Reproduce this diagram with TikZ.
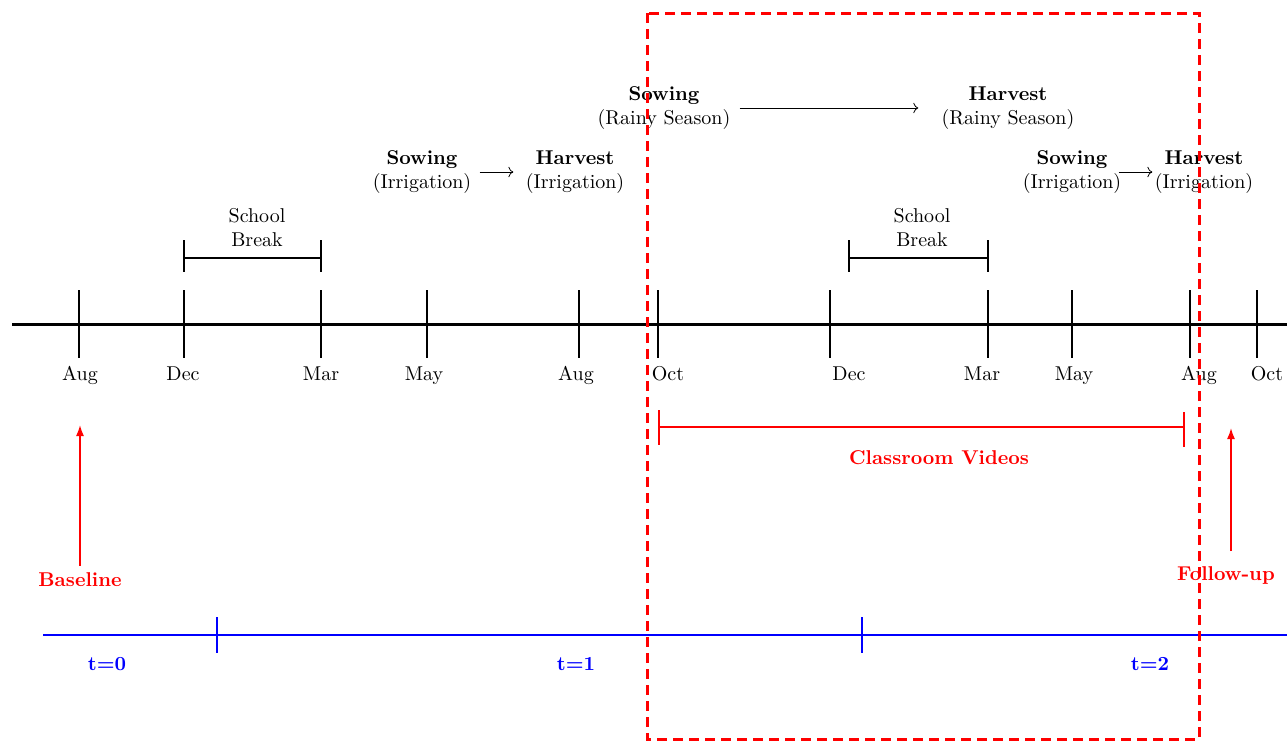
\documentclass[tikz,border=0pt]{standalone}
\usetikzlibrary{arrows.meta}

\tikzset{
  month/.style={anchor=base, inner sep=0pt},
  season/.style={align=center, inner sep=0pt},
  brk/.style={line width=0.6pt},
  redlabel/.style={red, font=\bfseries},
  bluelabel/.style={blue, font=\bfseries},
  uparrow/.style={red, line width=0.8pt, -{Latex[length=5.5pt,width=4pt]}},
}

% tick on the main line, label below it
\newcommand{\MonthTick}[4]{%
  \draw[line width=0.8pt] (#1,290) -- (#1,358);
  \node[month] (#3) at (#2,380) {#4};
}

\begin{document}
\begin{tikzpicture}[x=0.5pt, y=-0.5pt]
  \useasboundingbox (0,0) rectangle (1287,744);

  % main timeline
  \draw[line width=1.5pt] (12,324) -- (1287,324);
  \MonthTick{79}{80}{aug1}{Aug}
  \MonthTick{184}{183}{dec1}{Dec}
  \MonthTick{321}{321}{mar1}{Mar}
  \MonthTick{427}{424}{may1}{May}
  \MonthTick{579}{576}{aug2}{Aug}
  \MonthTick{658}{668}{oct1}{Oct}
  \MonthTick{830}{849}{dec2}{Dec}
  \MonthTick{988}{982}{mar2}{Mar}
  \MonthTick{1072}{1074}{may2}{May}
  \MonthTick{1190}{1199}{aug3}{Aug}
  \MonthTick{1257}{1267}{oct2}{Oct}

  % school breaks
  \node[season] (break1) at (257,228) {School\\Break};
  \draw[brk] (184,240) -- (184,272);
  \draw[brk] (184,258) -- (321,258);
  \draw[brk] (321,240) -- (321,272);
  \node[season] (break2) at (922,228) {School\\Break};
  \draw[brk] (849,240) -- (849,272);
  \draw[brk] (849,258) -- (988,258);
  \draw[brk] (988,240) -- (988,272);

  % sowing -> harvest
  \node[season] (sowI1) at (422,172) {\textbf{Sowing}\\(Irrigation)};
  \node[season] (harI1) at (575,172) {\textbf{Harvest}\\(Irrigation)};
  \node[season] (sowR)  at (664,108) {\textbf{Sowing}\\(Rainy Season)};
  \node[season] (harR)  at (1008,108) {\textbf{Harvest}\\(Rainy Season)};
  \node[season] (sowI2) at (1072,172) {\textbf{Sowing}\\(Irrigation)};
  \node[season] (harI2) at (1204,172) {\textbf{Harvest}\\(Irrigation)};
  \draw[->, shorten <=4pt, shorten >=6pt] (sowI1.east) -- (harI1.west);
  \draw[->, shorten <=4.5pt, shorten >=11.5pt] (sowR.east) -- (harR.west);
  \draw[->, shorten <=-1.5pt, shorten >=1pt] (sowI2.east) -- (harI2.west);

  % classroom videos
  \draw[red, line width=0.7pt] (659,410) -- (659,445);
  \draw[red, line width=0.7pt] (659,427) -- (1184,427);
  \draw[red, line width=0.7pt] (1184,412) -- (1184,447);
  \node[redlabel] (videos) at (939,458) {Classroom Videos};

  % surveys
  \node[redlabel] (baseline) at (80,580) {Baseline};
  \coordinate (baseTip) at (80,425);
  \draw[uparrow] (baseline.north) -- (baseTip);
  \node[redlabel] (followup) at (1226,575) {Follow-up};
  \coordinate (fupTip) at (1231,428);
  \draw[uparrow, shorten <=4pt] (fupTip |- followup.north) -- (fupTip);

  % survey rounds
  \draw[blue, line width=0.8pt] (43,635) -- (1287,635);
  \draw[blue, line width=0.8pt] (217,617) -- (217,653);
  \draw[blue, line width=0.8pt] (862,617) -- (862,653);
  \node[bluelabel] (t0) at (107,664) {t=0};
  \node[bluelabel] (t1) at (576,664) {t=1};
  \node[bluelabel] (t2) at (1150,664) {t=2};

  % study window
  \draw[red, line width=1.5pt, dash pattern=on 5pt off 3pt] (647,13) rectangle (1199,739);
\end{tikzpicture}
\end{document}
